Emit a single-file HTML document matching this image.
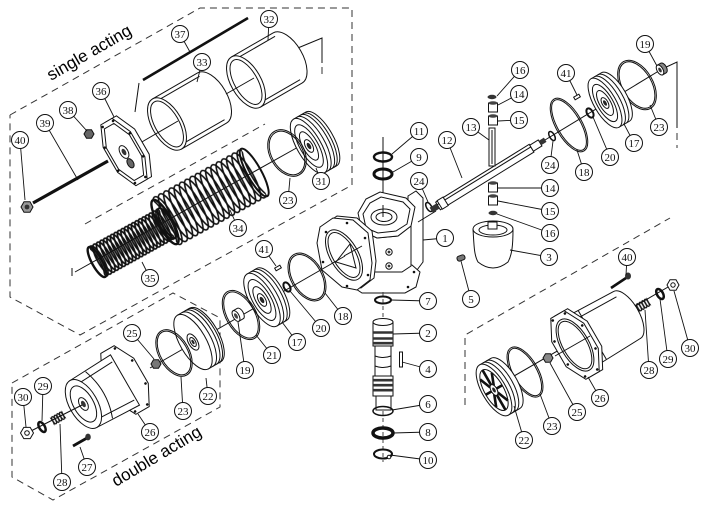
<!DOCTYPE html>
<html><head><meta charset="utf-8">
<style>
html,body{margin:0;padding:0;background:#fff}
svg{display:block}
.s{fill:#fff;stroke:#111;stroke-width:1}
.l{fill:none;stroke:#111;stroke-width:1}
.d{fill:none;stroke:#333;stroke-width:1;stroke-dasharray:7 5}
.sp{fill:none;stroke:#111}
.c circle{fill:#fff;stroke:#111;stroke-width:1}
.c text{font-family:"Liberation Serif",serif;font-size:11px;fill:#111;text-anchor:middle}
.t{font-family:"Liberation Sans",sans-serif;font-size:17px;fill:#000}
</style></head>
<body>
<svg width="709" height="512" viewBox="0 0 709 512" xmlns="http://www.w3.org/2000/svg">
<defs>
<pattern id="p34" patternUnits="userSpaceOnUse" x="0" y="-28" width="6" height="56">
 <g fill="none" stroke="#111" stroke-width="1.6"><ellipse cx="-3" cy="28" rx="7" ry="27"/><ellipse cx="3" cy="28" rx="7" ry="27"/><ellipse cx="9" cy="28" rx="7" ry="27"/></g>
</pattern>
<pattern id="p35" patternUnits="userSpaceOnUse" x="0" y="-18" width="4" height="36">
 <g fill="none" stroke="#111" stroke-width="1.7"><ellipse cx="-2" cy="18" rx="5" ry="17"/><ellipse cx="2" cy="18" rx="5" ry="17"/><ellipse cx="6" cy="18" rx="5" ry="17"/></g>
</pattern>
<pattern id="p28" patternUnits="userSpaceOnUse" x="0" y="-5" width="3" height="10">
 <g fill="none" stroke="#111" stroke-width="1.3"><ellipse cx="-1.5" cy="5" rx="1.6" ry="4"/><ellipse cx="1.5" cy="5" rx="1.6" ry="4"/><ellipse cx="4.5" cy="5" rx="1.6" ry="4"/></g>
</pattern>
</defs>
<rect width="709" height="512" fill="#fff"/>

<polyline class="d" points="10,115 200,8 352,8 352,185 80,335 10,297 10,115"/>
<polyline class="d" points="85,224 265,124"/>
<polygon class="d" points="12,383 173,293 220,318 220,407 53,500 12,477"/>
<polyline class="d" points="465,405 465,335 670,218"/>
<path class="l" d="M293,50 L322,38 L322,63 M662,69 L677,62 L677,128"/>
<path class="d" d="M322,67 V79 M677,133 V148"/>

<text class="t" transform="translate(51,81) rotate(-30)">single acting</text>
<text class="t" transform="translate(116,487) rotate(-31)">double acting</text>

<line x1="143" y1="80" x2="248" y2="18" stroke="#111" stroke-width="2.6"/>
<line class="l" x1="139" y1="83" x2="135" y2="112"/>
<g transform="translate(246,82) rotate(-30)">
 <path class="s" d="M0,-29 L48,-29 A15,29 0 0 1 48,29 L0,29 Z"/>
 <path class="l" d="M3,-25 H48 M3,25 H48"/>
 <ellipse class="s" rx="15" ry="29" stroke-width="3.5"/>
 <ellipse class="l" rx="11.5" ry="25"/>
</g>
<g transform="translate(167,124) rotate(-30)">
 <path class="s" d="M0,-29 L52,-29 A15,29 0 0 1 52,29 L0,29 Z"/>
 <path class="l" d="M3,-25 H52 M3,25 H52"/>
 <ellipse class="s" rx="15" ry="29" stroke-width="3"/>
 <ellipse class="l" rx="12" ry="25.5"/>
</g>
<path class="l" d="M128,150 L178,121 M226,94 L254,78"/>

<path class="l" d="M72,268 V276 M75,272 L300,146"/>
<g transform="translate(309,146) rotate(-30)">
 <path class="s" d="M0,-31 L14,-31 A12,31 0 0 1 14,31 L0,31 Z"/>
 <path class="l" stroke-width="1.5" d="M4,-31 A12,31 0 0 1 4,31 M8,-31 A12,31 0 0 1 8,31 M11,-31 A12,31 0 0 1 11,31"/>
 <ellipse class="s" rx="12" ry="31" stroke-width="1.3"/>
 <ellipse class="l" rx="9" ry="24"/>
 <ellipse class="l" rx="6" ry="16"/>
 <ellipse class="s" rx="3.5" ry="7" stroke-width="1.5"/>
 <ellipse rx="1.8" ry="3.5" fill="#222"/>
</g>
<g transform="translate(287,153) rotate(-30)">
 <ellipse class="l" rx="17" ry="25"/><ellipse class="l" rx="15.5" ry="23.5"/>
</g>
<g transform="translate(165,222) rotate(-29)">
 <rect x="0" y="-28" width="102" height="56" fill="url(#p34)"/>
 <ellipse class="sp" rx="7" ry="25" stroke-width="2.4"/>
 <ellipse class="sp" cx="102" rx="7" ry="27" stroke-width="2"/>
</g>
<g transform="translate(97,262) rotate(-29)">
 <rect x="0" y="-18" width="80" height="36" fill="url(#p35)"/>
 <ellipse class="sp" rx="5" ry="17" stroke-width="2.4"/>
 <ellipse class="sp" cx="80" rx="5" ry="17" stroke-width="2"/>
</g>
<g transform="translate(124,152) rotate(-30)">
 <polygon class="s" points="20.7,14.5 11.5,35.1 -1.5,35.1 -10.7,14.5 -10.7,-14.5 -1.5,-35.1 11.5,-35.1 20.7,-14.5"/>
 <polygon class="s" stroke-width="1.2" points="15.7,14.5 6.5,35.1 -6.5,35.1 -15.7,14.5 -15.7,-14.5 -6.5,-35.1 6.5,-35.1 15.7,-14.5"/>
 <polygon class="l" points="13.3,12.3 5.5,29.8 -5.5,29.8 -13.3,12.3 -13.3,-12.3 -5.5,-29.8 5.5,-29.8 13.3,-12.3"/>
 <path fill="none" stroke="#111" stroke-width="2.6" stroke-linecap="round" d="M14.4,13.3 h0 M6,32.3 h0 M-6,32.3 h0 M-14.4,13.3 h0 M-14.4,-13.3 h0 M-6,-32.3 h0 M6,-32.3 h0 M14.4,-13.3 h0"/>
 <ellipse class="s" rx="4" ry="7" stroke-width="1.5"/><ellipse rx="2" ry="3.5" fill="#333"/>
 <ellipse cx="0" cy="13" rx="3" ry="5" fill="#666" stroke="#111"/>
</g>
<polygon transform="translate(89,134)" points="5,0 2.5,4.3 -2.5,4.3 -5,0 -2.5,-4.3 2.5,-4.3" fill="#666" stroke="#111"/>
<line x1="33" y1="203" x2="108" y2="161" stroke="#111" stroke-width="3.2"/>
<polygon transform="translate(27,207)" points="6,0 3,5.2 -3,5.2 -6,0 -3,-5.2 3,-5.2" fill="#999" stroke="#111"/>
<circle cx="27" cy="207" r="2.4" fill="#333"/>

<line class="l" x1="383" y1="137" x2="383" y2="215"/>
<polygon class="s" points="408,196 416,191 423,198 423,262 417,270 408,268"/>
<polygon class="s" points="350,272 360,265 412,265 420,272 416,287 405,293 362,293 350,285"/>
<path fill="none" stroke="#111" stroke-width="2.6" stroke-linecap="round" d="M358,284 h0 M408,287 h0 M414,272 h0"/>
<polygon class="s" points="362,231 377,238 398,236 411,226 411,266 402,272 370,272 362,266"/>
<circle class="s" cx="389" cy="252" r="3.2" stroke-width="1.2"/><circle cx="389" cy="252" r="1.4" fill="#333"/>
<circle class="s" cx="389" cy="266" r="3.2" stroke-width="1.2"/><circle cx="389" cy="266" r="1.4" fill="#333"/>
<polygon class="s" points="358,213 366,199 380,192 406,198 415,207 411,226 398,236 377,238 362,231"/>
<polygon class="l" points="363,214 370,203 381,197 403,202 410,209 407,224 396,231 378,233 366,228"/>
<ellipse class="s" cx="384" cy="217" rx="13" ry="8"/>
<ellipse class="s" cx="384" cy="217" rx="8" ry="4.5" stroke-width="2"/>
<line class="l" x1="383" y1="205" x2="383" y2="217"/>
<polygon class="s" points="324,225 337,216 357,218 372,231 376,261 374,278 361,288 346,285 326,268 321,241"/>
<polygon class="s" stroke-width="1.2" points="320,227 333,218 353,220 368,233 372,263 370,280 357,290 342,287 322,270 317,243"/>
<g transform="translate(344,255) rotate(-30)">
 <ellipse class="s" rx="14" ry="28" stroke-width="2"/><ellipse class="l" rx="11.5" ry="25"/>
</g>
<path class="l" d="M336,262 L350,244 L356,268 Z M344,256 L362,246"/>
<path fill="none" stroke="#111" stroke-width="2.6" stroke-linecap="round" d="M326,232 h0 M347,223 h0 M365,238 h0 M368,275 h0 M347,286 h0 M323,262 h0"/>

<ellipse cx="383" cy="157" rx="9" ry="4.5" fill="none" stroke="#111" stroke-width="2.4"/>
<ellipse cx="383" cy="174" rx="9" ry="5" fill="none" stroke="#111" stroke-width="3"/>
<line class="l" x1="418" y1="222" x2="436" y2="211"/>
<g transform="translate(429,207) rotate(-30)"><ellipse rx="2.5" ry="5" fill="none" stroke="#111" stroke-width="1.5"/></g>

<line class="l" x1="545" y1="140" x2="662" y2="69"/>
<g transform="translate(660,70) rotate(-30)">
 <path d="M0,-5.5 L4,-5.5 A3,5.5 0 0 1 4,5.5 L0,5.5 Z" fill="#888" stroke="#111"/>
 <ellipse class="s" rx="3" ry="5.5"/><ellipse rx="1.4" ry="2.6" fill="#333"/>
</g>
<g transform="translate(637,85) rotate(-30)"><ellipse class="l" rx="16" ry="27"/><ellipse class="l" rx="14.5" ry="25.5"/></g>
<g transform="translate(605,103) rotate(-30)">
 <path class="s" d="M0,-28 L12,-28 A11,28 0 0 1 12,28 L0,28 Z"/>
 <path class="l" stroke-width="1.4" d="M4,-28 A11,28 0 0 1 4,28 M8,-28 A11,28 0 0 1 8,28"/>
 <ellipse class="s" rx="11" ry="28" stroke-width="1.3"/>
 <ellipse class="l" rx="8" ry="21"/><ellipse class="l" rx="5.5" ry="14"/>
 <ellipse class="s" rx="3" ry="6" stroke-width="1.5"/><ellipse rx="1.5" ry="3" fill="#222"/>
</g>
<g transform="translate(590,113) rotate(-30)"><ellipse rx="3" ry="5" fill="none" stroke="#111" stroke-width="2"/></g>
<g transform="translate(577,97) rotate(-30)"><rect x="-3" y="-1.5" width="6" height="3" class="s"/></g>
<g transform="translate(569,125) rotate(-30)"><ellipse class="l" rx="13" ry="30"/><ellipse class="l" rx="11.5" ry="28.5"/></g>
<g transform="translate(552,136) rotate(-30)"><ellipse rx="2.5" ry="5" fill="none" stroke="#111" stroke-width="1.5"/></g>
<g transform="translate(438,206) rotate(-31.7)">
 <rect class="s" x="0" y="-4.5" width="110" height="9"/>
 <line class="l" x1="0" y1="-1.5" x2="110" y2="-1.5"/>
 <rect x="-8" y="-3" width="8" height="6" fill="#333"/>
 <rect class="s" x="2" y="-5" width="7" height="10"/>
 <rect class="s" x="110" y="-3.5" width="10" height="7"/>
 <rect x="120" y="-2.5" width="6" height="5" fill="#333"/>
</g>
<rect class="s" x="489" y="128" width="6" height="38"/>
<line class="l" x1="492" y1="130" x2="492" y2="164"/>
<ellipse cx="492" cy="97" rx="4.5" ry="2.2" fill="#333"/>
<g class="s" stroke-width="1.3"><rect x="488.5" y="103" width="9" height="9"/><rect x="488.5" y="116" width="9" height="9"/><rect x="488.5" y="183" width="9" height="9"/><rect x="488.5" y="196" width="9" height="9"/></g>
<g fill="#444"><ellipse cx="493" cy="103" rx="4.5" ry="1.8"/><ellipse cx="493" cy="116" rx="4.5" ry="1.8"/><ellipse cx="493" cy="183" rx="4.5" ry="1.8"/><ellipse cx="493" cy="196" rx="4.5" ry="1.8"/></g>
<ellipse cx="493" cy="213" rx="4.5" ry="2.2" fill="#333"/>
<path class="s" d="M473,229 C474,245 474,255 478,262 Q493,274 508,262 C512,255 513,245 513,229 Z"/>
<ellipse class="s" cx="493" cy="229" rx="20" ry="8"/>
<ellipse class="l" cx="493" cy="230" rx="14" ry="5" stroke-width="1.6"/>
<rect class="s" x="488" y="222" width="9" height="7"/>
<g transform="translate(461,258) rotate(-20)"><rect x="-4" y="-2.5" width="8" height="5" rx="2" fill="#777" stroke="#111"/></g>

<line x1="383" y1="292" x2="383" y2="462" stroke="#333" stroke-width="0.9" stroke-dasharray="4 3"/>
<ellipse cx="383" cy="300" rx="8" ry="3.5" fill="none" stroke="#111" stroke-width="2"/>
<rect class="s" x="373" y="322" width="20" height="24"/>
<rect class="s" x="375" y="346" width="16" height="30"/>
<rect class="s" x="373" y="376" width="20" height="20"/>
<rect class="s" x="376" y="396" width="15" height="14"/>
<ellipse class="s" cx="383" cy="322" rx="10" ry="3.5"/>
<path stroke="#333" stroke-width="2.6" d="M373,332.5 H393 M373,338.5 H393 M373,343.2 H393 M373,380.2 H393 M373,385.2 H393 M373,390.2 H393"/>
<path class="l" d="M375,356 Q383,359 391,356 M375,366 Q383,369 391,366"/>
<rect class="s" x="399.5" y="352" width="3" height="15"/>
<ellipse cx="383" cy="411" rx="10" ry="4.5" fill="none" stroke="#111" stroke-width="1.5"/>
<ellipse cx="383" cy="433" rx="10" ry="5" fill="none" stroke="#111" stroke-width="3.5"/>
<ellipse cx="383" cy="454" rx="9" ry="4.5" fill="none" stroke="#111" stroke-width="2"/>
<circle cx="389" cy="457" r="1.8" class="s"/>

<line class="l" x1="495" y1="387" x2="675" y2="283"/>
<polygon transform="translate(673,285)" points="6,0 3,5.2 -3,5.2 -6,0 -3,-5.2 3,-5.2" class="s"/>
<circle cx="673" cy="285" r="2.2" class="l"/>
<g transform="translate(660,294) rotate(-30)"><ellipse rx="3" ry="5.5" fill="none" stroke="#111" stroke-width="2.5"/></g>
<g transform="translate(643,305) rotate(-30)"><rect x="-7" y="-5" width="14" height="10" fill="url(#p28)"/></g>
<line x1="611" y1="288" x2="626" y2="278" stroke="#111" stroke-width="2.6"/>
<ellipse cx="628" cy="276" rx="3" ry="3.5" fill="#333"/>
<g transform="translate(575,345) rotate(-30)">
 <path class="s" d="M0,-29 L60,-27 A12,27 0 0 1 60,27 L0,29 Z"/>
 <path class="l" d="M20,-28 V28 M6,-22 L60,-21"/>
 <polygon class="s" points="22.5,14.5 11.7,35.1 -3.7,35.1 -14.5,14.5 -14.5,-14.5 -3.7,-35.1 11.7,-35.1 22.5,-14.5"/>
 <polygon class="s" stroke-width="1.2" points="18.5,14.5 7.7,35.1 -7.7,35.1 -18.5,14.5 -18.5,-14.5 -7.7,-35.1 7.7,-35.1 18.5,-14.5"/>
 <ellipse class="s" rx="14" ry="29" stroke-width="1.8"/>
 <ellipse class="l" rx="12" ry="26.5"/>
 <path fill="none" stroke="#111" stroke-width="2.6" stroke-linecap="round" d="M16,13.3 h0 M7,32.3 h0 M-7,32.3 h0 M-16,13.3 h0 M-16,-13.3 h0 M-7,-32.3 h0 M7,-32.3 h0 M16,-13.3 h0"/>
</g>
<line class="l" x1="555" y1="356" x2="590" y2="336"/>
<polygon transform="translate(548,358)" points="5,0 2.5,4.3 -2.5,4.3 -5,0 -2.5,-4.3 2.5,-4.3" fill="#888" stroke="#111"/>
<g transform="translate(525,372) rotate(-30)"><ellipse class="l" rx="13" ry="28"/><ellipse class="l" rx="11.5" ry="26.5"/></g>
<g transform="translate(494,390) rotate(-30)">
 <path class="s" d="M0,-29 L13,-29 A12,29 0 0 1 13,29 L0,29 Z"/>
 <path class="l" stroke-width="1.5" d="M4,-29 A12,29 0 0 1 4,29 M8,-29 A12,29 0 0 1 8,29"/>
 <ellipse class="s" rx="12" ry="29" stroke-width="2.2"/>
 <ellipse class="l" rx="9.5" ry="23"/>
 <path stroke="#111" stroke-width="2.6" d="M0,-6 V-23 M0,6 V23 M3,0 H9.5 M-3,0 H-9.5 M2,-4 L6.7,-16 M-2,4 L-6.7,16 M2,4 L6.7,16 M-2,-4 L-6.7,-16"/>
 <ellipse class="s" rx="3" ry="6" stroke-width="1.5"/><ellipse rx="1.4" ry="2.8" fill="#222"/>
</g>

<line class="l" x1="345" y1="256" x2="150" y2="368"/>
<g transform="translate(307,277) rotate(-30)"><ellipse class="l" rx="16" ry="26"/><ellipse class="l" rx="14.5" ry="24.5"/></g>
<g transform="translate(278,268) rotate(-30)"><rect x="-3" y="-1.5" width="6" height="3" class="s"/></g>
<g transform="translate(287,287) rotate(-30)"><ellipse rx="3" ry="5" fill="none" stroke="#111" stroke-width="2"/></g>
<g transform="translate(262,300) rotate(-30)">
 <path class="s" d="M0,-30 L11,-30 A12,30 0 0 1 11,30 L0,30 Z"/>
 <path class="l" stroke-width="1.4" d="M4,-30 A12,30 0 0 1 4,30 M8,-30 A12,30 0 0 1 8,30"/>
 <ellipse class="s" rx="12" ry="30" stroke-width="1.3"/>
 <ellipse class="l" rx="9" ry="23"/><ellipse class="l" rx="6" ry="15"/>
 <ellipse class="s" rx="3.5" ry="7" stroke-width="1.6"/><ellipse rx="1.8" ry="3.5" fill="#222"/>
</g>
<g transform="translate(241,315) rotate(-30)"><ellipse class="l" rx="15" ry="27"/><ellipse class="l" rx="13.5" ry="25.5"/></g>
<g transform="translate(236,316) rotate(-30)">
 <path d="M0,-6 L5,-6 A3,6 0 0 1 5,6 L0,6 Z" fill="#fff" stroke="#111"/>
 <ellipse class="s" rx="3" ry="6" stroke-width="1.2"/><ellipse rx="1.5" ry="3" fill="#444"/>
</g>
<g transform="translate(193,342) rotate(-30)">
 <path class="s" d="M0,-31 L14,-31 A13,31 0 0 1 14,31 L0,31 Z"/>
 <path class="l" stroke-width="1.4" d="M5,-31 A13,31 0 0 1 5,31 M9,-31 A13,31 0 0 1 9,31 M12,-31 A13,31 0 0 1 12,31"/>
 <ellipse class="s" rx="13" ry="31" stroke-width="1.2"/>
 <ellipse class="l" rx="4.5" ry="9"/>
 <ellipse class="s" rx="2.5" ry="5" stroke-width="1.4"/><ellipse rx="1.2" ry="2.4" fill="#222"/>
</g>
<g transform="translate(174,353) rotate(-30)"><ellipse class="l" rx="15" ry="25.5"/><ellipse class="l" rx="13.5" ry="24"/></g>
<polygon transform="translate(156,364)" points="5,0 2.5,4.3 -2.5,4.3 -5,0 -2.5,-4.3 2.5,-4.3" fill="#777" stroke="#111"/>
<g transform="translate(125,380) rotate(-30)">
 <polygon class="s" stroke-width="1.2" points="18.5,14.5 7.7,35.1 -7.7,35.1 -18.5,14.5 -18.5,-14.5 -7.7,-35.1 7.7,-35.1 18.5,-14.5"/>
 <path fill="none" stroke="#111" stroke-width="2.6" stroke-linecap="round" d="M16,13.3 h0 M7,32.3 h0 M-7,32.3 h0 M16,-13.3 h0 M7,-32.3 h0"/>
 <path class="s" d="M-48,-27 L0,-29 L0,29 L-48,27 Z"/>
 <path class="l" d="M-46,-20 L-2,-22 M-46,20 L-2,22 M-30,-27 Q-20,0 -30,27"/>
 <ellipse class="s" cx="-48" rx="14" ry="27" stroke-width="1.2"/>
 <ellipse class="l" cx="-48" rx="10" ry="20"/>
 <ellipse class="s" cx="-48" rx="4" ry="7" stroke-width="1.4"/><ellipse cx="-48" rx="2" ry="3.5" fill="#333"/>
</g>
<line class="l" x1="27" y1="433" x2="82" y2="405"/>
<g transform="translate(58,418) rotate(-30)"><rect x="-7" y="-5" width="14" height="10" fill="url(#p28)"/></g>
<g transform="translate(42,427) rotate(-30)"><ellipse rx="2.8" ry="5.5" fill="none" stroke="#111" stroke-width="2.5"/></g>
<polygon transform="translate(27,433)" points="6.5,0 3.2,5.6 -3.2,5.6 -6.5,0 -3.2,-5.6 3.2,-5.6" class="s"/>
<circle cx="27" cy="433" r="2.3" class="l"/>
<line x1="73" y1="446" x2="87" y2="438" stroke="#111" stroke-width="2.8"/>
<ellipse cx="88" cy="437" rx="2.8" ry="3.4" fill="#333"/>

<path fill="none" stroke="#111" stroke-width="0.9" d="M180,34L190,52M269,19L268,40M202,62L197,82M101,91L114,117M68,110L87,131M45,123L78,180M20,140L25,200M321,181L316,168M288,200L290,178M238,228L230,210M150,278L142,262M264,249L276,266M419,131L392,154M419,157L393,172M419,181L428,202M447,140L462,178M471,127L489,140M520,70L497,96M519,94L498,105M519,120L498,121M566,73L577,95M645,44L657,66M659,127L650,105M634,143L624,124M610,157L593,117M584,172L577,150M550,165L553,141M550,188L498,188M550,211L498,201M550,233L497,214M445,238L423,240M549,257L510,250M471,299L461,261M428,301L391,300M428,333L393,334M428,369L402,362M428,404L392,410M428,432L393,433M428,460L390,455M627,257L626,275M690,348L674,291M668,359L660,299M649,370L645,310M600,398L588,377M577,412L550,363M552,426L540,394M524,440L514,406M132,333L154,359M321,328L290,291M343,316L325,293M297,342L282,322M272,355L256,335M245,370L238,322M208,396L206,378M183,411L181,377M150,432L138,414M43,386L42,421M23,397L26,427M87,467L80,447M62,482L60,424"/>

<g class="c">
<circle cx="180" cy="34" r="8.5"/><text x="180" y="38">37</text>
<circle cx="269" cy="19" r="8.5"/><text x="269" y="23">32</text>
<circle cx="202" cy="62" r="8.5"/><text x="202" y="66">33</text>
<circle cx="101" cy="91" r="8.5"/><text x="101" y="95">36</text>
<circle cx="68" cy="110" r="8.5"/><text x="68" y="114">38</text>
<circle cx="45" cy="123" r="8.5"/><text x="45" y="127">39</text>
<circle cx="20" cy="140" r="8.5"/><text x="20" y="144">40</text>
<circle cx="321" cy="181" r="8.5"/><text x="321" y="185">31</text>
<circle cx="288" cy="200" r="8.5"/><text x="288" y="204">23</text>
<circle cx="238" cy="228" r="8.5"/><text x="238" y="232">34</text>
<circle cx="150" cy="278" r="8.5"/><text x="150" y="282">35</text>
<circle cx="264" cy="249" r="8.5"/><text x="264" y="253">41</text>
<circle cx="419" cy="131" r="8.5"/><text x="419" y="135">11</text>
<circle cx="419" cy="157" r="8.5"/><text x="419" y="161">9</text>
<circle cx="419" cy="181" r="8.5"/><text x="419" y="185">24</text>
<circle cx="447" cy="140" r="8.5"/><text x="447" y="144">12</text>
<circle cx="471" cy="127" r="8.5"/><text x="471" y="131">13</text>
<circle cx="520" cy="70" r="8.5"/><text x="520" y="74">16</text>
<circle cx="519" cy="94" r="8.5"/><text x="519" y="98">14</text>
<circle cx="519" cy="120" r="8.5"/><text x="519" y="124">15</text>
<circle cx="566" cy="73" r="8.5"/><text x="566" y="77">41</text>
<circle cx="645" cy="44" r="8.5"/><text x="645" y="48">19</text>
<circle cx="659" cy="127" r="8.5"/><text x="659" y="131">23</text>
<circle cx="634" cy="143" r="8.5"/><text x="634" y="147">17</text>
<circle cx="610" cy="157" r="8.5"/><text x="610" y="161">20</text>
<circle cx="584" cy="172" r="8.5"/><text x="584" y="176">18</text>
<circle cx="550" cy="165" r="8.5"/><text x="550" y="169">24</text>
<circle cx="550" cy="188" r="8.5"/><text x="550" y="192">14</text>
<circle cx="550" cy="211" r="8.5"/><text x="550" y="215">15</text>
<circle cx="550" cy="233" r="8.5"/><text x="550" y="237">16</text>
<circle cx="445" cy="238" r="8.5"/><text x="445" y="242">1</text>
<circle cx="549" cy="257" r="8.5"/><text x="549" y="261">3</text>
<circle cx="471" cy="299" r="8.5"/><text x="471" y="303">5</text>
<circle cx="428" cy="301" r="8.5"/><text x="428" y="305">7</text>
<circle cx="428" cy="333" r="8.5"/><text x="428" y="337">2</text>
<circle cx="428" cy="369" r="8.5"/><text x="428" y="373">4</text>
<circle cx="428" cy="404" r="8.5"/><text x="428" y="408">6</text>
<circle cx="428" cy="432" r="8.5"/><text x="428" y="436">8</text>
<circle cx="428" cy="460" r="8.5"/><text x="428" y="464">10</text>
<circle cx="627" cy="257" r="8.5"/><text x="627" y="261">40</text>
<circle cx="690" cy="348" r="8.5"/><text x="690" y="352">30</text>
<circle cx="668" cy="359" r="8.5"/><text x="668" y="363">29</text>
<circle cx="649" cy="370" r="8.5"/><text x="649" y="374">28</text>
<circle cx="600" cy="398" r="8.5"/><text x="600" y="402">26</text>
<circle cx="577" cy="412" r="8.5"/><text x="577" y="416">25</text>
<circle cx="552" cy="426" r="8.5"/><text x="552" y="430">23</text>
<circle cx="524" cy="440" r="8.5"/><text x="524" y="444">22</text>
<circle cx="132" cy="333" r="8.5"/><text x="132" y="337">25</text>
<circle cx="321" cy="328" r="8.5"/><text x="321" y="332">20</text>
<circle cx="343" cy="316" r="8.5"/><text x="343" y="320">18</text>
<circle cx="297" cy="342" r="8.5"/><text x="297" y="346">17</text>
<circle cx="272" cy="355" r="8.5"/><text x="272" y="359">21</text>
<circle cx="245" cy="370" r="8.5"/><text x="245" y="374">19</text>
<circle cx="208" cy="396" r="8.5"/><text x="208" y="400">22</text>
<circle cx="183" cy="411" r="8.5"/><text x="183" y="415">23</text>
<circle cx="150" cy="432" r="8.5"/><text x="150" y="436">26</text>
<circle cx="43" cy="386" r="8.5"/><text x="43" y="390">29</text>
<circle cx="23" cy="397" r="8.5"/><text x="23" y="401">30</text>
<circle cx="87" cy="467" r="8.5"/><text x="87" y="471">27</text>
<circle cx="62" cy="482" r="8.5"/><text x="62" y="486">28</text>
</g>
</svg>
</body></html>
